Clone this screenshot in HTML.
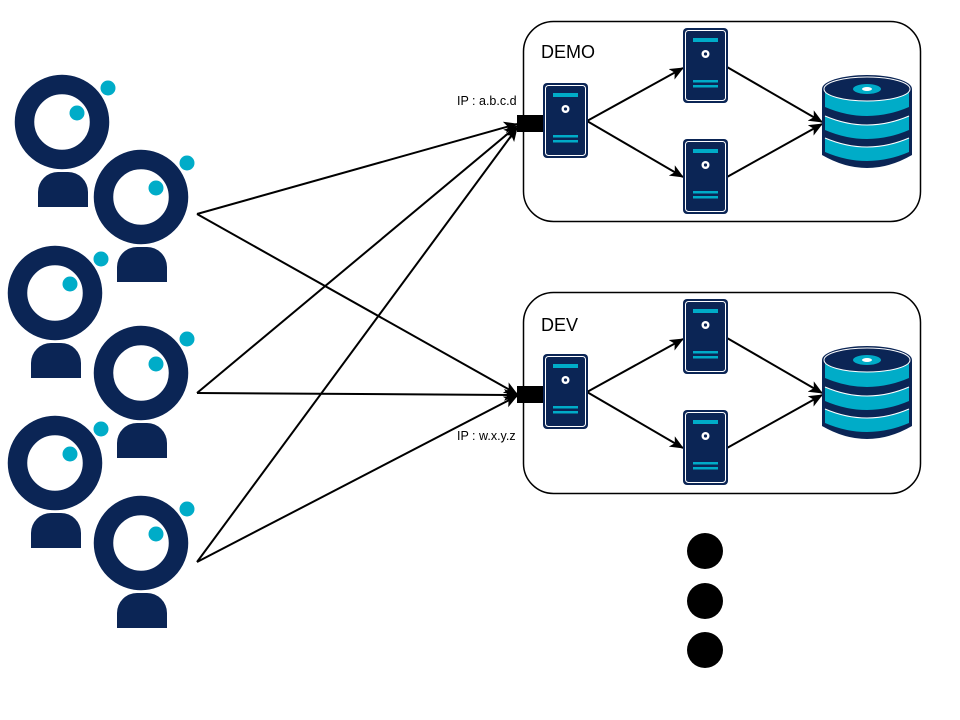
<!DOCTYPE html>
<html><head><meta charset="utf-8"><style>
html,body{margin:0;padding:0;background:#fff;}
svg{display:block;font-family:"Liberation Sans",sans-serif;}
</style></head><body>
<svg width="960" height="720" viewBox="0 0 960 720" xmlns="http://www.w3.org/2000/svg">
<defs>
<marker id="ah" markerWidth="14" markerHeight="12" refX="13" refY="6" orient="auto" markerUnits="userSpaceOnUse">
<path d="M0,0 L14,6 L0,12 L3.5,6 Z" fill="#000"/>
</marker>
</defs>

<rect x="523.5" y="21.5" width="397" height="200" rx="30" fill="#fff" stroke="#000" stroke-width="1.5"/>
<rect x="523.5" y="292.5" width="397" height="201" rx="30" fill="#fff" stroke="#000" stroke-width="1.5"/>
<text x="541" y="58" font-size="18">DEMO</text>
<text x="541" y="331" font-size="18">DEV</text>
<text x="457" y="105" font-size="12.5">IP : a.b.c.d</text>
<text x="457" y="440" font-size="12.5">IP : w.x.y.z</text>

<g stroke="#000" stroke-width="2" fill="none" marker-end="url(#ah)">
<line x1="197" y1="214" x2="517" y2="124"/>
<line x1="197" y1="214" x2="517" y2="394"/>
<line x1="197" y1="393" x2="517" y2="126"/>
<line x1="197" y1="393" x2="517" y2="395"/>
<line x1="197" y1="562" x2="517" y2="128"/>
<line x1="197" y1="562" x2="517" y2="396"/>
<line x1="587" y1="121" x2="683" y2="68"/>
<line x1="587" y1="121" x2="683" y2="177"/>
<line x1="727" y1="67" x2="822" y2="122"/>
<line x1="727" y1="177" x2="822" y2="124"/>
<line x1="587" y1="392" x2="683" y2="339"/>
<line x1="587" y1="392" x2="683" y2="448"/>
<line x1="727" y1="338" x2="822" y2="393"/>
<line x1="727" y1="448" x2="822" y2="395"/>
</g>

<rect x="517" y="115" width="27" height="17" fill="#000"/>
<rect x="517" y="386" width="27" height="17" fill="#000"/>

<g>
<g transform="translate(543,83)">
<rect width="45" height="75" rx="4" fill="#0b2555"/><rect x="2.5" y="2.5" width="40" height="70" rx="3" fill="none" stroke="#fff" stroke-width="1"/>
<rect x="10" y="10" width="25" height="4" fill="#00acc8"/><circle cx="22.5" cy="26" r="4" fill="#fff"/><circle cx="22.5" cy="26" r="1.6" fill="#0b2555"/>
<rect x="10" y="52" width="25" height="2.5" fill="#00acc8"/><rect x="10" y="57" width="25" height="2.5" fill="#00acc8"/></g>
<g transform="translate(683,28)">
<rect width="45" height="75" rx="4" fill="#0b2555"/><rect x="2.5" y="2.5" width="40" height="70" rx="3" fill="none" stroke="#fff" stroke-width="1"/>
<rect x="10" y="10" width="25" height="4" fill="#00acc8"/><circle cx="22.5" cy="26" r="4" fill="#fff"/><circle cx="22.5" cy="26" r="1.6" fill="#0b2555"/>
<rect x="10" y="52" width="25" height="2.5" fill="#00acc8"/><rect x="10" y="57" width="25" height="2.5" fill="#00acc8"/></g>
<g transform="translate(683,139)">
<rect width="45" height="75" rx="4" fill="#0b2555"/><rect x="2.5" y="2.5" width="40" height="70" rx="3" fill="none" stroke="#fff" stroke-width="1"/>
<rect x="10" y="10" width="25" height="4" fill="#00acc8"/><circle cx="22.5" cy="26" r="4" fill="#fff"/><circle cx="22.5" cy="26" r="1.6" fill="#0b2555"/>
<rect x="10" y="52" width="25" height="2.5" fill="#00acc8"/><rect x="10" y="57" width="25" height="2.5" fill="#00acc8"/></g>
<g transform="translate(543,354)">
<rect width="45" height="75" rx="4" fill="#0b2555"/><rect x="2.5" y="2.5" width="40" height="70" rx="3" fill="none" stroke="#fff" stroke-width="1"/>
<rect x="10" y="10" width="25" height="4" fill="#00acc8"/><circle cx="22.5" cy="26" r="4" fill="#fff"/><circle cx="22.5" cy="26" r="1.6" fill="#0b2555"/>
<rect x="10" y="52" width="25" height="2.5" fill="#00acc8"/><rect x="10" y="57" width="25" height="2.5" fill="#00acc8"/></g>
<g transform="translate(683,299)">
<rect width="45" height="75" rx="4" fill="#0b2555"/><rect x="2.5" y="2.5" width="40" height="70" rx="3" fill="none" stroke="#fff" stroke-width="1"/>
<rect x="10" y="10" width="25" height="4" fill="#00acc8"/><circle cx="22.5" cy="26" r="4" fill="#fff"/><circle cx="22.5" cy="26" r="1.6" fill="#0b2555"/>
<rect x="10" y="52" width="25" height="2.5" fill="#00acc8"/><rect x="10" y="57" width="25" height="2.5" fill="#00acc8"/></g>
<g transform="translate(683,410)">
<rect width="45" height="75" rx="4" fill="#0b2555"/><rect x="2.5" y="2.5" width="40" height="70" rx="3" fill="none" stroke="#fff" stroke-width="1"/>
<rect x="10" y="10" width="25" height="4" fill="#00acc8"/><circle cx="22.5" cy="26" r="4" fill="#fff"/><circle cx="22.5" cy="26" r="1.6" fill="#0b2555"/>
<rect x="10" y="52" width="25" height="2.5" fill="#00acc8"/><rect x="10" y="57" width="25" height="2.5" fill="#00acc8"/></g>
</g>

<g transform="translate(822,75)">
<path d="M0,14 A45,14 0 0 1 90,14 L90,80 Q45,106 0,80 Z" fill="#0b2555"/>
<path d="M3,16 L3,32 Q45,50 87,32 L87,16 Z" fill="#00acc8"/>
<path d="M3,41 L3,55 Q45,73 87,55 L87,41 Q45,59 3,41 Z" fill="#00acc8"/>
<path d="M3,41 Q45,59 87,41" fill="none" stroke="#fff" stroke-width="1"/>
<path d="M3,63 L3,77 Q45,95 87,77 L87,63 Q45,81 3,63 Z" fill="#00acc8"/>
<path d="M3,63 Q45,81 87,63" fill="none" stroke="#fff" stroke-width="1"/>
<ellipse cx="45" cy="14" rx="43" ry="12" fill="#0b2555" stroke="#fff" stroke-width="1"/>
<ellipse cx="45" cy="14" rx="14" ry="5" fill="#00acc8"/><ellipse cx="45" cy="14" rx="5" ry="2" fill="#fff"/>
</g>
<g transform="translate(822,346)">
<path d="M0,14 A45,14 0 0 1 90,14 L90,80 Q45,106 0,80 Z" fill="#0b2555"/>
<path d="M3,16 L3,32 Q45,50 87,32 L87,16 Z" fill="#00acc8"/>
<path d="M3,41 L3,55 Q45,73 87,55 L87,41 Q45,59 3,41 Z" fill="#00acc8"/>
<path d="M3,41 Q45,59 87,41" fill="none" stroke="#fff" stroke-width="1"/>
<path d="M3,63 L3,77 Q45,95 87,77 L87,63 Q45,81 3,63 Z" fill="#00acc8"/>
<path d="M3,63 Q45,81 87,63" fill="none" stroke="#fff" stroke-width="1"/>
<ellipse cx="45" cy="14" rx="43" ry="12" fill="#0b2555" stroke="#fff" stroke-width="1"/>
<ellipse cx="45" cy="14" rx="14" ry="5" fill="#00acc8"/><ellipse cx="45" cy="14" rx="5" ry="2" fill="#fff"/>
</g>

<circle cx="705" cy="551" r="18" fill="#000"/>
<circle cx="705" cy="601" r="18" fill="#000"/>
<circle cx="705" cy="650" r="18" fill="#000"/>

<g fill="#0b2555">
<g transform="translate(62,122)"><circle r="37.5" fill="none" stroke="#0b2555" stroke-width="19.5"/><circle cx="15" cy="-9" r="7.5" fill="#00acc8"/><circle cx="46" cy="-34" r="7.5" fill="#00acc8"/><path d="M-24,85 L-24,70 A20,20 0 0 1 -4,50 L6,50 A20,20 0 0 1 26,70 L26,85 Z"/></g>
<g transform="translate(141,197)"><circle r="37.5" fill="none" stroke="#0b2555" stroke-width="19.5"/><circle cx="15" cy="-9" r="7.5" fill="#00acc8"/><circle cx="46" cy="-34" r="7.5" fill="#00acc8"/><path d="M-24,85 L-24,70 A20,20 0 0 1 -4,50 L6,50 A20,20 0 0 1 26,70 L26,85 Z"/></g>
<g transform="translate(55,293)"><circle r="37.5" fill="none" stroke="#0b2555" stroke-width="19.5"/><circle cx="15" cy="-9" r="7.5" fill="#00acc8"/><circle cx="46" cy="-34" r="7.5" fill="#00acc8"/><path d="M-24,85 L-24,70 A20,20 0 0 1 -4,50 L6,50 A20,20 0 0 1 26,70 L26,85 Z"/></g>
<g transform="translate(141,373)"><circle r="37.5" fill="none" stroke="#0b2555" stroke-width="19.5"/><circle cx="15" cy="-9" r="7.5" fill="#00acc8"/><circle cx="46" cy="-34" r="7.5" fill="#00acc8"/><path d="M-24,85 L-24,70 A20,20 0 0 1 -4,50 L6,50 A20,20 0 0 1 26,70 L26,85 Z"/></g>
<g transform="translate(55,463)"><circle r="37.5" fill="none" stroke="#0b2555" stroke-width="19.5"/><circle cx="15" cy="-9" r="7.5" fill="#00acc8"/><circle cx="46" cy="-34" r="7.5" fill="#00acc8"/><path d="M-24,85 L-24,70 A20,20 0 0 1 -4,50 L6,50 A20,20 0 0 1 26,70 L26,85 Z"/></g>
<g transform="translate(141,543)"><circle r="37.5" fill="none" stroke="#0b2555" stroke-width="19.5"/><circle cx="15" cy="-9" r="7.5" fill="#00acc8"/><circle cx="46" cy="-34" r="7.5" fill="#00acc8"/><path d="M-24,85 L-24,70 A20,20 0 0 1 -4,50 L6,50 A20,20 0 0 1 26,70 L26,85 Z"/></g>
</g>
</svg>
</body></html>
